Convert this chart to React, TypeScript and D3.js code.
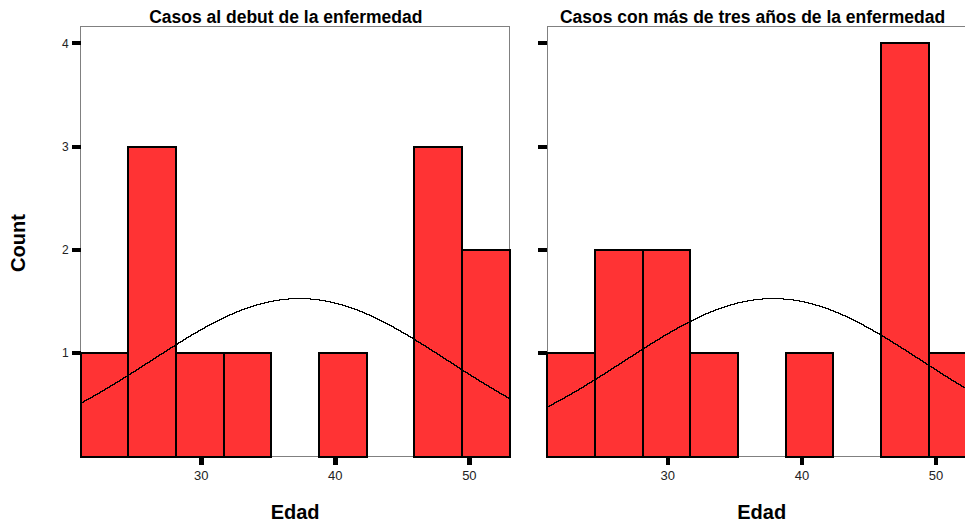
import React from "react";
import * as d3 from "d3";

const binStart = 21;
const binEnd = 53;
const binCount = 9;
const debutCounts = [1, 3, 1, 1, 0, 1, 0, 3, 2];
const masTresCounts = [1, 2, 2, 1, 0, 1, 0, 4, 1];
const debutFit = { mean: 37.3, sd: 11.1 };
const masTresFit = { mean: 37.8, sd: 11.1 };
const xTickValues = [30, 40, 50];
const yTickValues = [1, 2, 3, 4];
const panelTitles = [
  "Casos al debut de la enfermedad",
  "Casos con más de tres años de la enfermedad",
];

const W = 965;
const H = 526;
const FONT = "'Liberation Sans', Arial, Helvetica, sans-serif";

type PanelProps = {
  left: number;
  counts: number[];
  fit: { mean: number; sd: number };
  title: string;
  titleX: number;
  showYLabels: boolean;
  id: string;
};

const top = 26;
const bottom = 456;
const pw = 429;

function Panel({ left, counts, fit, title, titleX, showYLabels, id }: PanelProps) {
  const x = d3.scaleLinear().domain([binStart, binEnd]).range([left, left + pw]);
  const y = d3.scaleLinear().domain([0, 4]).range([456.5, 43.3]);
  const bw = (binEnd - binStart) / binCount;
  const n = d3.sum(counts);
  const edges = d3.range(binCount + 1).map((i) => binStart + i * bw);
  const pdf = (v: number) =>
    Math.exp(-0.5 * ((v - fit.mean) / fit.sd) ** 2) / (fit.sd * Math.sqrt(2 * Math.PI));
  const samples = d3.range(left, left + pw + 1, 1).map((px) => {
    const v = x.invert(px);
    return [px, y(n * bw * pdf(v))] as [number, number];
  });
  const line = d3
    .line<[number, number]>()
    .x((d) => d[0])
    .y((d) => Math.round(d[1]) + 0.5)
    .curve(d3.curveStepAfter);

  return (
    <g>
      <defs>
        <clipPath id={id}>
          <rect x={left} y={top} width={pw} height={bottom - top} />
        </clipPath>
      </defs>
      <rect x={left} y={top} width={pw} height={bottom - top} fill="white" stroke="#808080" strokeWidth={1} />
      {counts.map((c, i) =>
        c > 0 ? (
          <rect
            key={i}
            x={x(edges[i])}
            y={y(c)}
            width={x(edges[i + 1]) - x(edges[i])}
            height={y(0) - y(c)}
            fill="#ff3334"
            stroke="black"
            strokeWidth={2}
          />
        ) : null
      )}
      <path d={line(samples) || ""} fill="none" stroke="black" strokeWidth={1} clipPath={`url(#${id})`} />
      {yTickValues.map((t) => (
        <g key={t}>
          <line x1={left - 9} x2={left} y1={y(t)} y2={y(t)} stroke="black" strokeWidth={4} />
          {showYLabels ? (
            <text x={left - 12} y={y(t)} dy="0.35em" textAnchor="end" fontSize={12} fill="#222" fontFamily={FONT}>
              {t}
            </text>
          ) : null}
        </g>
      ))}
      {xTickValues.map((t) => (
        <g key={t}>
          <line x1={x(t)} x2={x(t)} y1={bottom + 1} y2={bottom + 9} stroke="black" strokeWidth={4.5} />
          <text x={x(t)} y={480} textAnchor="middle" fontSize={13} fill="#222" fontFamily={FONT}>
            {t}
          </text>
        </g>
      ))}
      <text x={titleX} y={23} textAnchor="middle" fontSize={17.5} fontWeight="bold" fill="black" fontFamily={FONT}>
        {title}
      </text>
      <text x={left + pw / 2} y={519} textAnchor="middle" fontSize={20} fontWeight="bold" fill="black" fontFamily={FONT}>
        Edad
      </text>
    </g>
  );
}

export default function App() {
  return (
    <svg
      width={W}
      height={H}
      style={{ position: "absolute", left: 0, top: 0, background: "white" }}
      shapeRendering="crispEdges"
    >
      <rect x={0} y={0} width={W} height={H} fill="white" />
      <Panel left={80.6} counts={debutCounts} fit={debutFit} title={panelTitles[0]} titleX={285.8} showYLabels={true} id="c1" />
      <Panel left={547.2} counts={masTresCounts} fit={masTresFit} title={panelTitles[1]} titleX={752.5} showYLabels={false} id="c2" />
      <text
        transform="translate(25,243) rotate(-90)"
        textAnchor="middle"
        fontSize={20}
        fontWeight="bold"
        fill="black"
        fontFamily={FONT}
      >
        Count
      </text>
    </svg>
  );
}
